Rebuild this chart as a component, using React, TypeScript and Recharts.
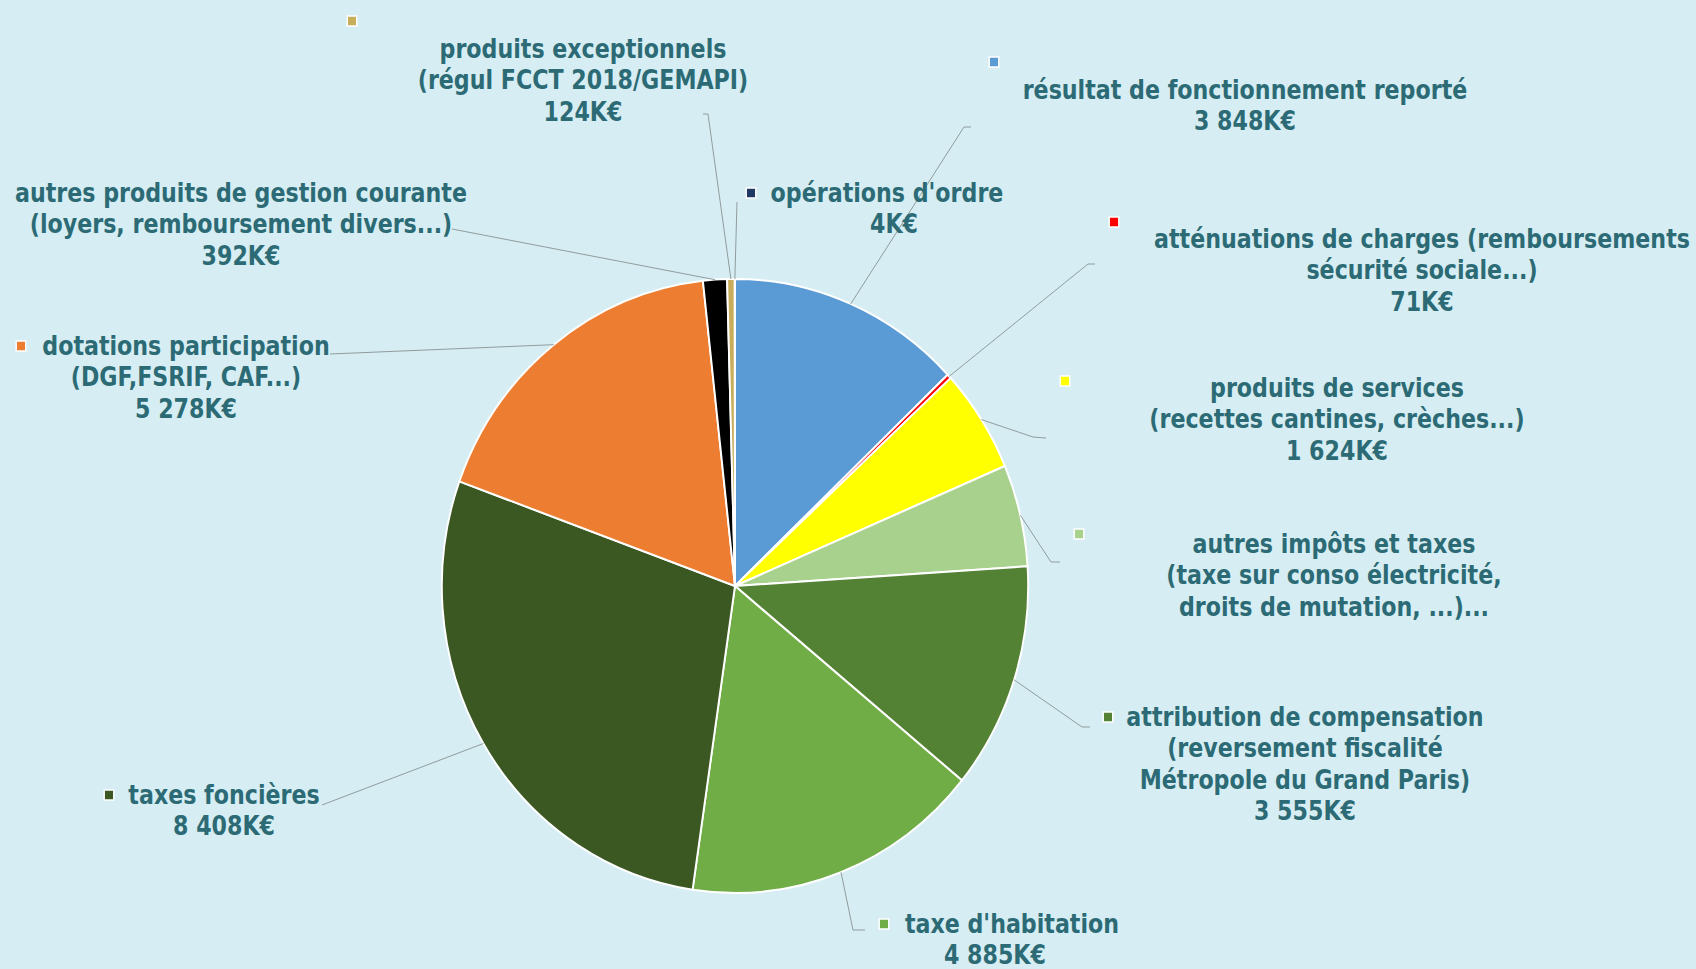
import React from 'react'
import { PieChart, Pie, Cell } from 'recharts'

// slices, clockwise from 12 o'clock
const categories = [
  'résultat de fonctionnement reporté',
  'atténuations de charges',
  'produits de services',
  'autres impôts et taxes',
  'attribution de compensation',
  "taxe d'habitation",
  'taxes foncières',
  'dotations participation',
  'autres produits de gestion courante',
  'produits exceptionnels',
  "opérations d'ordre",
]

// K€ (autres impôts et taxes has no printed value)
const values = [3848, 71, 1624, 1600, 3555, 4885, 8408, 5278, 392, 124, 4]
const valuePrinted = [true, true, true, false, true, true, true, true, true, true, true]

const labelLines = [
  ['résultat de fonctionnement reporté'],
  ['atténuations de charges (remboursements', 'sécurité sociale...)'],
  ['produits de services', '(recettes cantines, crèches...)'],
  ['autres impôts et taxes', '(taxe sur conso électricité,', 'droits de mutation, ...)...'],
  ['attribution de compensation', '(reversement fiscalité', 'Métropole du Grand Paris)'],
  ["taxe d'habitation"],
  ['taxes foncières'],
  ['dotations participation', '(DGF,FSRIF, CAF...)'],
  ['autres produits de gestion courante', '(loyers, remboursement divers...)'],
  ['produits exceptionnels', '(régul FCCT 2018/GEMAPI)'],
  ["opérations d'ordre"],
]

const colors = [
  '#5B9BD5', '#FF0000', '#FFFF00', '#A9D18E', '#548235', '#70AD47',
  '#3B5823', '#ED7D31', '#000000', '#C8AE5A', '#1F3864',
]

// label placement (page pixels): text centre x, first line centre y, first-line shift, legend key, leader start points
const labelLayout = [
  { x: 1245, y: 90, dx1: 0, key: [994, 62], lead: [[971, 127], [964, 127]] },
  { x: 1422, y: 239, dx1: 0, key: [1114, 222], lead: [[1095, 264], [1088, 264]] },
  { x: 1337, y: 388, dx1: 0, key: [1065, 381], lead: [[1046, 438], [1033, 437]] },
  { x: 1334, y: 544, dx1: 0, key: [1079, 534], lead: [[1060, 562], [1051, 562]] },
  { x: 1305, y: 717, dx1: 0, key: [1108, 717], lead: [[1090, 727], [1082, 727]] },
  { x: 995, y: 924, dx1: 17, key: [884, 924], lead: [[865, 930], [853, 930]] },
  { x: 224, y: 795, dx1: 0, key: [109, 795], lead: [[322, 805]] },
  { x: 186, y: 346, dx1: 0, key: [21, 346], lead: [[330, 354]] },
  { x: 241, y: 193, dx1: 0, key: null, lead: [[452, 229]] },
  { x: 583, y: 49, dx1: 0, key: [352, 21], lead: [[703, 114], [708, 114]] },
  { x: 894, y: 193, dx1: -7, key: [751, 193], lead: [[737, 202]] },
]

const data = categories.map((name, i) => ({ name, value: values[i] }))

const TEXT = '#2C6B75'
const LINE_H = 31.5
const RAD = Math.PI / 180
// the original picture is squeezed horizontally, so the whole chart is too
const SX = 0.955
const W = 1696
const H = 969

const fmt = (v: number) =>
  v >= 1000 ? `${Math.floor(v / 1000)} ${String(v % 1000).padStart(3, '0')}K€` : `${v}K€`

const renderLabel = (props: any) => {
  const { cx, cy, midAngle, outerRadius, index } = props
  const lay = labelLayout[index]
  const ex = cx + outerRadius * Math.cos(-midAngle * RAD)
  const ey = cy + outerRadius * Math.sin(-midAngle * RAD)
  const pts = [...lay.lead.map(p => [p[0] / SX, p[1]]), [ex, ey]].map(p => p.join(',')).join(' ')
  const lines = valuePrinted[index] ? [...labelLines[index], fmt(values[index])] : labelLines[index]
  return (
    <g key={`lbl-${index}`}>
      <polyline points={pts} fill="none" stroke="#8E9A9C" strokeWidth={1} />
      {lay.key && (
        <rect x={lay.key[0] / SX - 5} y={lay.key[1] - 5} width={10} height={10}
          fill={colors[index]} stroke="#FFFFFF" strokeWidth={1.5} />
      )}
      {lines.map((t, j) => (
        <text key={j} x={(lay.x + (j === 0 ? lay.dx1 : 0)) / SX} y={lay.y + j * LINE_H}
          textAnchor="middle" dominantBaseline="central" fill={TEXT}
          fontFamily='"DejaVu Sans Condensed", "DejaVu Sans", sans-serif'
          fontStretch="condensed" fontWeight="bold" fontSize={25.8}>
          {t}
        </text>
      ))}
    </g>
  )
}

export default function App() {
  return (
    <div style={{ position: 'absolute', left: 0, top: 0, width: W, height: H, overflow: 'hidden', background: '#D6EEF3' }}>
      <div style={{ width: W / SX, height: H, transform: `scaleX(${SX})`, transformOrigin: '0 0' }}>
        <PieChart width={W / SX} height={H} margin={{ top: 0, right: 0, bottom: 0, left: 0 }}>
          <Pie
            data={data}
            dataKey="value"
            nameKey="name"
            cx={735 / SX}
            cy={586}
            outerRadius={307}
            startAngle={90}
            endAngle={-270}
            stroke="#FFFFFF"
            strokeWidth={2}
            label={renderLabel}
            labelLine={false}
            isAnimationActive={false}
          >
            {data.map((d, i) => (
              <Cell key={d.name} fill={colors[i]} />
            ))}
          </Pie>
        </PieChart>
      </div>
    </div>
  )
}
